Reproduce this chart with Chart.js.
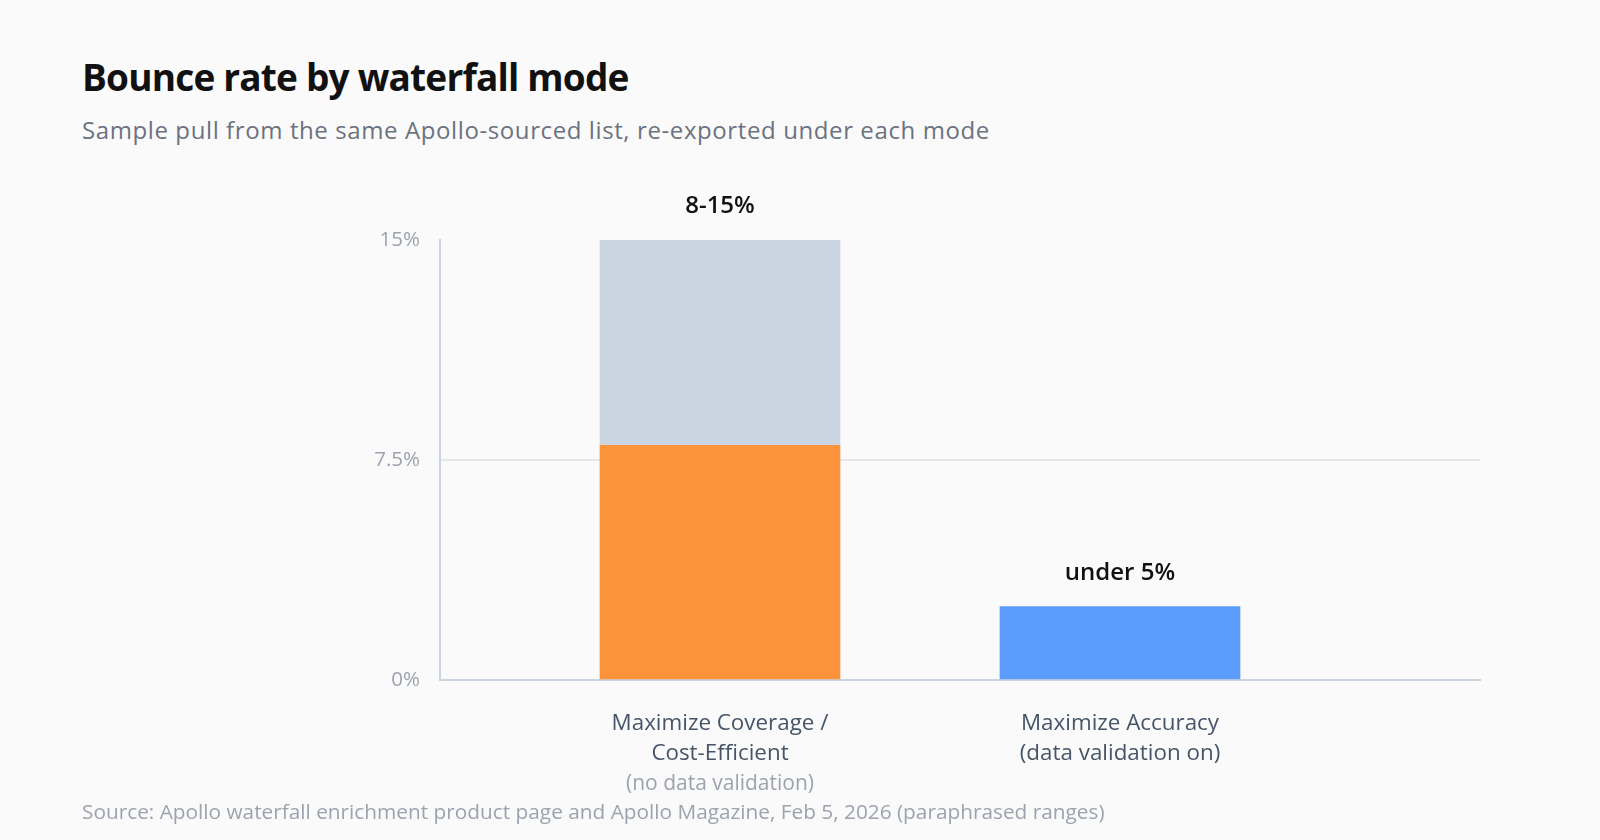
<!DOCTYPE html>
<html lang="en">
<head>
<meta charset="UTF-8" />
<title>Bounce rate by waterfall mode</title>
<script src="https://cdn.jsdelivr.net/npm/chart.js@4.4.0/dist/chart.umd.min.js"></script>
<style>
  * { box-sizing: border-box; margin: 0; padding: 0; }
  body { width: 1600px; height: 840px; background: #fafafa; font-family: 'Open Sans', sans-serif; position: relative; overflow: hidden; }
  .title    { position: absolute; left: 82px; top: 58px;  font-size: 37px; font-weight: 700; line-height: 1; letter-spacing: -0.8px; color: #111; }
  .subtitle { position: absolute; left: 82px; top: 118px; font-size: 24px; line-height: 1; letter-spacing: 0.6px; color: #6b7280; }
  .source   { position: absolute; left: 82px; top: 801px; font-size: 20.8px; line-height: 1; color: #9ca3af; }
  canvas { position: absolute; left: 0; top: 0; }
</style>
</head>
<body>

<div class="title">Bounce rate by waterfall mode</div>
<div class="subtitle">Sample pull from the same Apollo-sourced list, re-exported under each mode</div>
<canvas id="chart" width="1600" height="840"></canvas>
<div class="source">Source: Apollo waterfall enrichment product page and Apollo Magazine, Feb 5, 2026 (paraphrased ranges)</div>

<script>
// Data
const categories    = [['Maximize Coverage /', 'Cost-Efficient'], ['Maximize Accuracy', '(data validation on)']];
const categoryNotes = ['(no data validation)', ''];
const lowEnd        = [8, null];     // orange, coverage mode low end
const rangeTop      = [15, null];    // grey, coverage mode high end
const accuracyRate  = [null, 2.5];   // blue, accuracy mode
const rangeLabels   = ['8-15%', 'under 5%'];
const yTicks        = [0, 7.5, 15];

// where each category sits on the x scale (0..26)
const SLOTS = [7, 17];

const pts = vals => vals.map((v, i) => ({ x: SLOTS[i], y: v })).filter(p => p.y !== null);

// range labels above bars + grey note under the first category
const labelsPlugin = {
  id: 'rangeLabels',
  afterDatasetsDraw(chart) {
    const { ctx, scales: { x, y } } = chart;
    ctx.save();
    ctx.textAlign = 'center';
    ctx.textBaseline = 'alphabetic';
    ctx.fillStyle = '#111';
    ctx.font = '600 24px "Open Sans"';
    categories.forEach((c, i) => {
      const top = Math.max(lowEnd[i] || 0, rangeTop[i] || 0, accuracyRate[i] || 0);
      ctx.fillText(rangeLabels[i], x.getPixelForValue(SLOTS[i]), y.getPixelForValue(top) - 27);
    });
    ctx.textBaseline = 'middle';
    ctx.fillStyle = '#9ca3af';
    ctx.font = '21px "Open Sans"';
    categoryNotes.forEach((n, i) => {
      if (n) ctx.fillText(n, x.getPixelForValue(SLOTS[i]), 784);
    });
    ctx.restore();
  }
};

new Chart(document.getElementById('chart'), {
  type: 'bar',
  data: {
    datasets: [
      { label: 'Low end',   data: pts(lowEnd),                                   backgroundColor: '#fb923c' },
      { label: 'High end',  data: pts(rangeTop.map((v, i) => v === null ? null : v - lowEnd[i])), backgroundColor: '#cbd5e1' },
      { label: 'Accuracy',  data: pts(accuracyRate),                             backgroundColor: '#5b9bf9' },
    ],
  },
  options: {
    responsive: false,
    animation: false,
    barThickness: 240,
    layout: { padding: { left: 340, right: 120, top: 240, bottom: 40 } },
    plugins: { legend: { display: false }, tooltip: { enabled: false } },
    scales: {
      x: {
        type: 'linear', min: 0, max: 26, stacked: true, offset: false,
        afterBuildTicks: s => { s.ticks = SLOTS.map(v => ({ value: v })); },
        afterFit: s => { s.height = 120; },
        grid: { display: false, drawTicks: false },
        border: { color: '#cbd5e1', width: 2 },
        ticks: {
          autoSkip: false, maxRotation: 0, padding: 29,
          color: '#475569',
          font: { family: 'Open Sans', size: 22.4, lineHeight: 1.34 },
          callback: (v, i) => categories[i],
        },
      },
      y: {
        min: 0, max: 15, stacked: true,
        afterBuildTicks: s => { s.ticks = yTicks.map(v => ({ value: v })); },
        afterFit: s => { s.width = 100; },
        grid: {
          drawTicks: false, lineWidth: 2,
          color: c => c.tick && c.tick.value === 7.5 ? '#e5e7eb' : 'transparent',
        },
        border: { color: '#cbd5e1', width: 2 },
        ticks: {
          padding: 20, color: '#9ca3af',
          font: { family: 'Open Sans', size: 20.5 },
          callback: v => v + '%',
        },
      },
    },
  },
  plugins: [labelsPlugin],
});
</script>
</body>
</html>
